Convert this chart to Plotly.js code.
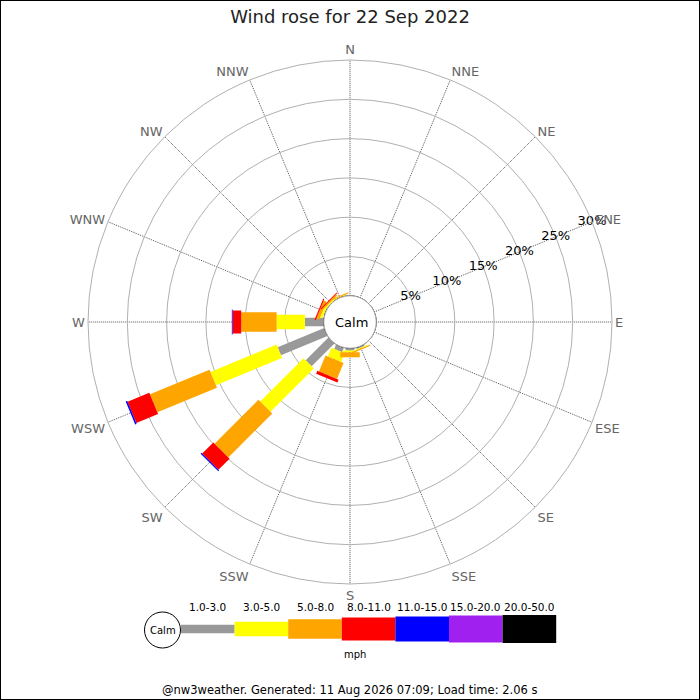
<!DOCTYPE html>
<html>
<head>
<meta charset="utf-8">
<script src="https://cdn.plot.ly/plotly-3.0.1.min.js"></script>
<style>html,body{margin:0;padding:0;background:#fff;}#chart{width:700px;height:700px;}</style>
</head>
<body>
<div id="chart"></div>
<script>
// ---- data ----
const directions = ["N","NNE","NE","ENE","E","ESE","SE","SSE","S","SSW","SW","WSW","W","WNW","NW","NNW"];
const speedClasses = ["1.0-3.0","3.0-5.0","5.0-8.0","8.0-11.0","11.0-15.0","15.0-20.0","20.0-50.0"];
// percent frequency per direction, one array per speed class
const pct_1_3   = [0,0,0,0,0,0,0,0.2,0.3,0.6,4.1,6.4,2.4,0.1,0.05,0];
const pct_3_5   = [0,0,0,0,0,0,0,0.1,0.2,1.2,7.8,9.1,3.6,0.3,0.15,0.1];
const pct_5_8   = [0,0,0,0,0,0,0,0.15,0.65,2.2,7.9,8.2,4.5,0.4,0.2,0.15];
const pct_8_11  = [0,0,0,0,0,0,0,0,0,0.4,2.0,3.0,1.1,0.15,0.12,0];
const pct_11_15 = [0,0,0,0,0,0,0,0,0,0,0.15,0.2,0.1,0,0,0];
const pct_15_20 = [0,0,0,0,0,0,0,0,0,0,0,0,0,0,0,0];
const pct_20_50 = [0,0,0,0,0,0,0,0,0,0,0,0,0,0,0,0];
const radialTicks = [5,10,15,20,25,30];
const radialTickText = ["5%","10%","15%","20%","25%","30%"];
const titleText = "Wind rose for 22 Sep 2022";
const unitText = "mph";
const footerText = "@nw3weather. Generated: 11 Aug 2026 07:09; Load time: 2.06 s";

// ---- styles ----
const classColors = ["#999999","#ffff00","#ffa500","#ff0000","#0000ff","#a020f0","#000000"];
const classWidths = [8.5,14.5,19.5,23,25,27,28];
const FONT = "DejaVu Sans, sans-serif";

const series = [pct_1_3,pct_3_5,pct_5_8,pct_8_11,pct_11_15,pct_15_20,pct_20_50];
const dirAngles = directions.map((d,i)=>i*22.5);

const traces = [];
const cum = directions.map(()=>0);
series.forEach((vals,ci)=>{
  const r=[], th=[];
  vals.forEach((v,di)=>{
    if(v>0){
      r.push(cum[di], cum[di]+v, null);
      th.push(dirAngles[di], dirAngles[di], null);
    }
    cum[di]+=v;
  });
  traces.push({
    type:"scatterpolar", mode:"lines", r:r, theta:th,
    line:{color:classColors[ci], width:classWidths[ci]},
    connectgaps:false, hoverinfo:"skip", showlegend:false
  });
});

// calm circle on the hole edge
const circTh=[], circR=[];
for(let a=0;a<=360;a+=3){circTh.push(a);circR.push(0);}
traces.push({type:"scatterpolar",mode:"lines",r:circR,theta:circTh,
  line:{color:"#000",width:1},hoverinfo:"skip",showlegend:false});

// radial tick labels along ENE
traces.push({type:"scatterpolar",mode:"text",r:radialTicks,
  theta:radialTicks.map(()=>dirAngles[3]),text:radialTickText,
  textposition:"middle center",textfont:{family:FONT,size:13,color:"#000"},
  hoverinfo:"skip",showlegend:false});

// ---- legend (paper coordinates) ----
const P = (px)=>px/700, Q=(py)=>1-py/700;
const shapes = [
  {type:"rect",xref:"paper",yref:"paper",x0:0,x1:1,y0:0,y1:1,line:{color:"#000",width:2},fillcolor:"rgba(0,0,0,0)"},
  {type:"circle",xref:"paper",yref:"paper",x0:P(144.5),x1:P(180.5),y0:Q(648),y1:Q(612),line:{color:"#000",width:1},fillcolor:"#fff"}
];
const annotations = [
  {text:"Calm",xref:"paper",yref:"paper",x:P(351),y:Q(322),showarrow:false,xanchor:"center",yanchor:"middle",font:{family:FONT,size:13,color:"#000"}},
  {text:"Calm",xref:"paper",yref:"paper",x:P(162.5),y:Q(630),showarrow:false,xanchor:"center",yanchor:"middle",font:{family:FONT,size:10,color:"#000"}},
  {text:unitText,xref:"paper",yref:"paper",x:P(355),y:Q(654),showarrow:false,xanchor:"center",yanchor:"middle",font:{family:FONT,size:10,color:"#000"}},
  {text:footerText,xref:"paper",yref:"paper",x:P(349),y:Q(690),showarrow:false,xanchor:"center",yanchor:"middle",font:{family:FONT,size:11.5,color:"#000"}}
];
const legX0=181, legW=53.6, legY=629;
speedClasses.forEach((lab,i)=>{
  const x0=legX0+i*legW, x1=x0+legW, h=classWidths[i];
  shapes.push({type:"rect",xref:"paper",yref:"paper",x0:P(x0),x1:P(x1),y0:Q(legY+h/2),y1:Q(legY-h/2),
    line:{width:0},fillcolor:classColors[i]});
  annotations.push({text:lab,xref:"paper",yref:"paper",x:P((x0+x1)/2),y:Q(607),showarrow:false,
    xanchor:"center",yanchor:"middle",font:{family:FONT,size:10.5,color:"#000"}});
});

const layout = {
  width:700,height:700,margin:{l:0,r:0,t:0,b:0},
  paper_bgcolor:"#fff",plot_bgcolor:"#fff",
  font:{family:FONT},
  title:{text:titleText,x:0.5,xanchor:"center",y:1-17/700,yanchor:"middle",yref:"container",
    font:{family:FONT,size:18,color:"#222"}},
  polar:{
    domain:{x:[88/700,612/700],y:[116/700,640/700]},
    bgcolor:"#fff",hole:0.1,
    radialaxis:{range:[0,30],tickvals:radialTicks,showticklabels:false,ticks:"",
      showline:false,gridcolor:"#b0b0b0",gridwidth:1},
    angularaxis:{direction:"clockwise",rotation:90,tickmode:"array",tickvals:dirAngles,ticktext:directions,
      ticks:"",showline:true,linecolor:"#b0b0b0",linewidth:1,gridcolor:"#555555",griddash:"1px,1px",gridwidth:1,
      tickfont:{family:FONT,size:13,color:"#666"}}
  },
  shapes:shapes,annotations:annotations
};
Plotly.newPlot("chart",traces,layout,{staticPlot:true,displayModeBar:false});
</script>
</body>
</html>
